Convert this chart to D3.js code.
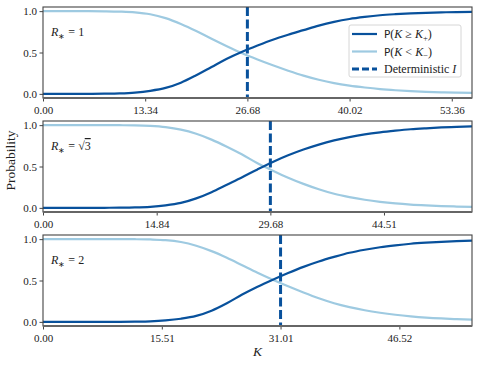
<!DOCTYPE html>
<html>
<head>
<meta charset="utf-8">
<script src="https://cdn.jsdelivr.net/npm/d3@7"></script>
<style>
  body { margin: 0; background: #fff; }
</style>
</head>
<body>
<div id="chart"></div>
<script>
// K grid the curves were read at
const kValues = [0, 2, 4, 6, 8, 10, 12, 14, 16, 18, 20, 22, 24, 26, 28, 30, 32, 34, 36, 38, 40, 42, 44, 46, 48, 50, 52, 54, 56];

// P(K >= K+) per panel
const upperR1 = [0, 0, 0, 0, 0.002, 0.006, 0.016, 0.037, 0.072, 0.135, 0.225, 0.325, 0.425, 0.51, 0.585, 0.655, 0.715, 0.77, 0.825, 0.87, 0.905, 0.93, 0.95, 0.963, 0.973, 0.98, 0.985, 0.989, 0.992];
const upperRsqrt3 = [0, 0, 0, 0, 0.001, 0.002, 0.005, 0.013, 0.03, 0.06, 0.115, 0.19, 0.28, 0.37, 0.465, 0.555, 0.635, 0.705, 0.765, 0.815, 0.855, 0.888, 0.913, 0.933, 0.95, 0.962, 0.972, 0.979, 0.985];
const upperR2 = [0, 0, 0, 0, 0, 0.001, 0.003, 0.007, 0.018, 0.038, 0.072, 0.135, 0.225, 0.33, 0.425, 0.51, 0.59, 0.665, 0.73, 0.785, 0.835, 0.872, 0.902, 0.925, 0.944, 0.957, 0.967, 0.975, 0.981];

// P(K < K-) per panel
const lowerR1 = [1, 1, 1, 1, 0.998, 0.994, 0.985, 0.962, 0.915, 0.845, 0.76, 0.665, 0.575, 0.49, 0.415, 0.345, 0.28, 0.22, 0.17, 0.13, 0.1, 0.077, 0.058, 0.044, 0.033, 0.025, 0.019, 0.014, 0.011];
const lowerRsqrt3 = [1, 1, 1, 1, 1, 0.999, 0.997, 0.99, 0.975, 0.945, 0.895, 0.825, 0.74, 0.645, 0.54, 0.45, 0.365, 0.29, 0.225, 0.17, 0.13, 0.098, 0.073, 0.054, 0.04, 0.03, 0.022, 0.016, 0.012];
const lowerR2 = [1, 1, 1, 1, 1, 1, 0.999, 0.996, 0.988, 0.965, 0.92, 0.855, 0.775, 0.685, 0.595, 0.51, 0.43, 0.355, 0.285, 0.225, 0.178, 0.14, 0.11, 0.086, 0.067, 0.052, 0.041, 0.033, 0.027];

// deterministic I and the x ticks (multiples of I/2)
const deterministicI = [26.68, 29.68, 31.01];
const xTicksR1 = [0, 13.34, 26.68, 40.02, 53.36];
const xTicksRsqrt3 = [0, 14.84, 29.68, 44.51];
const xTicksR2 = [0, 15.51, 31.01, 46.52];
const yTicks = [0, 0.5, 1];
const legendLabels = ["upper", "lower", "det"];

const panels = [
  { r: "1", upper: upperR1, lower: lowerR1, I: deterministicI[0], ticks: xTicksR1 },
  { r: "sqrt3", upper: upperRsqrt3, lower: lowerRsqrt3, I: deterministicI[1], ticks: xTicksRsqrt3 },
  { r: "2", upper: upperR2, lower: lowerR2, I: deterministicI[2], ticks: xTicksR2 }
];

const WIDTH = 479, HEIGHT = 365;
const margin = { left: 43, right: 7 };
const panelTops = [7, 121, 235];
const PANEL_H = 91;
const darkBlue = "#08519c";
const lightBlue = "#9ecae1";
const spineColor = "#444";
const SERIF = "Liberation Serif";
const SANS = "DejaVu Sans";

const svg = d3.select("#chart").append("svg")
  .attr("width", WIDTH)
  .attr("height", HEIGHT)
  .attr("font-family", SERIF);

const x = d3.scaleLinear()
  .domain([0, 56])
  .range([margin.left, WIDTH - margin.right]);

panels.forEach((p, i) => {
  const top = panelTops[i];
  const y = d3.scaleLinear()
    .domain([-0.05, 1.05])
    .range([top + PANEL_H, top]);

  const g = svg.append("g");

  const line = d3.line()
    .x((d, j) => x(kValues[j]))
    .y(d => y(d))
    .curve(d3.curveMonotoneX);

  g.append("path")
    .datum(p.lower)
    .attr("fill", "none")
    .attr("stroke", lightBlue)
    .attr("stroke-width", 2.2)
    .attr("d", line);

  g.append("path")
    .datum(p.upper)
    .attr("fill", "none")
    .attr("stroke", darkBlue)
    .attr("stroke-width", 2.2)
    .attr("d", line);

  // deterministic I
  g.append("line")
    .attr("x1", x(p.I)).attr("x2", x(p.I))
    .attr("y1", top).attr("y2", top + PANEL_H)
    .attr("stroke", darkBlue)
    .attr("stroke-width", 3)
    .attr("stroke-dasharray", "9,3.5");

  // axes
  const xAxis = d3.axisBottom(x)
    .tickValues(p.ticks)
    .tickSize(3.5)
    .tickPadding(4.5);
  const ax = g.append("g")
    .attr("transform", "translate(0," + (top + PANEL_H) + ")")
    .call(xAxis);
  ax.select(".domain").remove();
  ax.selectAll("text").text((d, j) => p.ticks[j].toFixed(2));

  const yAxis = d3.axisLeft(y)
    .tickValues(yTicks)
    .tickFormat(d3.format(".1f"))
    .tickSize(3.5)
    .tickPadding(2.5);
  const ay = g.append("g")
    .attr("transform", "translate(" + margin.left + ",0)")
    .call(yAxis);
  ay.select(".domain").remove();

  [ax, ay].forEach(a => {
    a.attr("font-family", SERIF).attr("font-size", 11);
    a.selectAll("line").attr("stroke", spineColor).attr("stroke-width", 1);
    a.selectAll("text").attr("fill", "#222");
  });

  // frame
  g.append("rect")
    .attr("x", x(0)).attr("y", top)
    .attr("width", x(56) - x(0)).attr("height", PANEL_H)
    .attr("fill", "none")
    .attr("stroke", spineColor)
    .attr("stroke-width", 1.1);
  g.append("line")
    .attr("x1", x(0)).attr("x2", x(56))
    .attr("y1", top + PANEL_H).attr("y2", top + PANEL_H)
    .attr("stroke", "#666")
    .attr("stroke-width", 1.8);

  // R_* label
  const rt = g.append("text")
    .attr("x", x(0) + 8)
    .attr("y", top + 29)
    .attr("font-size", 12)
    .attr("fill", "#222");
  rt.append("tspan").attr("font-style", "italic").text("R");
  rt.append("tspan").attr("dy", 2.5).attr("font-size", 8).text("∗");
  rt.append("tspan").attr("dy", -2.5).text(" = ");
  if (p.r === "sqrt3") {
    rt.append("tspan").text("√");
    rt.append("tspan").style("text-decoration", "overline").text("3");
  } else {
    rt.append("tspan").text(p.r);
  }
});

// legend (top panel)
const lg = svg.append("g");
lg.append("rect")
  .attr("x", 349).attr("y", 25)
  .attr("width", 112).attr("height", 52)
  .attr("rx", 2)
  .attr("fill", "#fff").attr("fill-opacity", 0.85)
  .attr("stroke", "#ccc").attr("stroke-width", 0.8);

legendLabels.forEach((key, i) => {
  const ly = 34 + i * 17.5;
  lg.append("line")
    .attr("x1", 352).attr("x2", 377)
    .attr("y1", ly).attr("y2", ly)
    .attr("stroke", key === "lower" ? lightBlue : darkBlue)
    .attr("stroke-width", key === "det" ? 3 : 2.2)
    .attr("stroke-dasharray", key === "det" ? "7,3" : null);
  const t = lg.append("text")
    .attr("x", 384).attr("y", ly + 4)
    .attr("font-size", 12)
    .attr("fill", "#222");
  if (key === "det") {
    t.append("tspan").text("Deterministic ");
    t.append("tspan").attr("font-style", "italic").text("I");
  } else {
    t.append("tspan").attr("font-family", SANS).attr("font-size", 10.5).text("P");
    t.append("tspan").text("(");
    t.append("tspan").attr("font-style", "italic").text("K");
    t.append("tspan").text(key === "upper" ? " ≥ " : " < ");
    t.append("tspan").attr("font-style", "italic").text("K");
    t.append("tspan").attr("dy", 2.5).attr("font-size", 8.5).text(key === "upper" ? "+" : "−");
    t.append("tspan").attr("dy", -2.5).text(")");
  }
});

// axis titles
svg.append("text")
  .attr("x", x(28))
  .attr("y", 356)
  .attr("text-anchor", "middle")
  .attr("font-size", 13.5)
  .attr("font-style", "italic")
  .attr("fill", "#222")
  .text("K");

svg.append("text")
  .attr("transform", "translate(15,160.5) rotate(-90)")
  .attr("text-anchor", "middle")
  .attr("font-size", 13.5)
  .attr("fill", "#222")
  .text("Probability");
</script>
</body>
</html>
